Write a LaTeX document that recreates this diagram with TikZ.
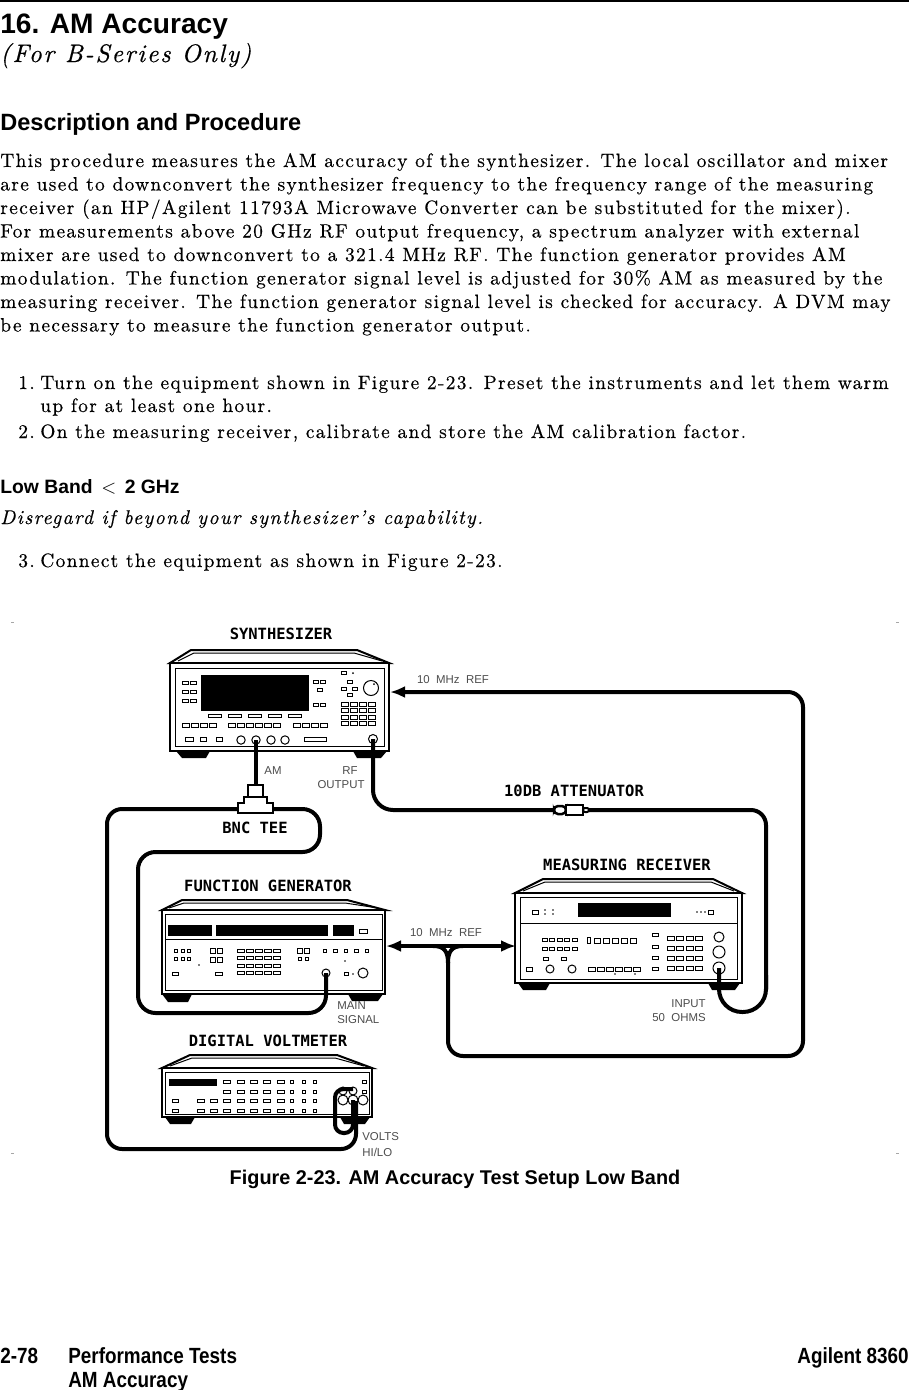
\documentclass[tikz,border=0pt]{standalone}
\usepackage{fontspec}
\usepackage{graphicx}
\usetikzlibrary{arrows.meta}
\setmainfont{lmroman10}[Extension=.otf, UprightFont=*-regular, ItalicFont=*-italic, BoldFont=*-bold, BoldItalicFont=*-bolditalic]
\newfontfamily\bodyfont{lmroman10}[Extension=.otf, UprightFont=*-regular, ItalicFont=*-italic, LetterSpace=7, FakeBold=0.4]
\newfontfamily\headfont{Liberation Sans}
\newfontfamily\stencilfont{DejaVu Sans Mono}
\newfontfamily\thinfont{Liberation Sans}
\begin{document}
\begin{tikzpicture}[x=0.2mm, y=-0.2mm,
  case/.style={line width=0.4mm, fill=white},
  panel/.style={line width=0.2mm},
  key/.style={line width=0.2mm},
  cable/.style={line width=0.8mm, rounded corners=3mm},
  devname/.style={font=\stencilfont\bfseries\fontsize{8.8}{10}\selectfont, inner sep=0pt},
  portname/.style={font=\thinfont\fontsize{6.5}{7.5}\selectfont, text=black!70, inner sep=0pt},
  body/.style={anchor=base west, inner sep=0pt, font=\bodyfont\fontsize{11}{13}\selectfont},
  heading/.style={anchor=base west, inner sep=0pt, font=\headfont\bfseries\fontsize{13.4}{15}\selectfont},
  pagefoot/.style={inner sep=0pt, font=\headfont\bfseries\fontsize{12.5}{14}\selectfont}]
\useasboundingbox (0,0) rectangle (909,1390);
\draw[line width=0.3mm] (0,1) -- (909,1);

% text of the page
\node[heading, font=\headfont\bfseries\fontsize{16}{18}\selectfont] (title) at (0,33) {16. AM Accuracy};
\node[body, font=\bodyfont\itshape\fontsize{14.4}{16}\selectfont] (series) at (0,62) {(For B-Series Only)};
\node[heading] (descr) at (0,130) {Description and Procedure};
\node[body] (l1) at (0,167) {This procedure measures the AM accuracy of the synthesizer.  The local oscillator and mixer};
\node[body] (l2) at (0,190.5) {are used to downconvert the synthesizer frequency to the frequency range of the measuring};
\node[body] (l3) at (0,214) {receiver (an HP/Agilent 11793A Microwave Converter can be substituted for the mixer).};
\node[body] (l4) at (0,237.5) {For measurements above 20 GHz RF output frequency, a spectrum analyzer with external};
\node[body] (l5) at (0,261) {mixer are used to downconvert to a 321.4 MHz RF. The function generator provides AM};
\node[body] (l6) at (0,284.5) {modulation.  The function generator signal level is adjusted for 30\% AM as measured by the};
\node[body] (l7) at (0,308) {measuring receiver.  The function generator signal level is checked for accuracy.  A DVM may};
\node[body] (l8) at (0,331.5) {be necessary to measure the function generator output.};
\node[body] (n1) at (18,389) {1.};
\node[body] (s1) at (40,389) {Turn on the equipment shown in Figure 2-23.  Preset the instruments and let them warm};
\node[body] (s1b) at (40,412) {up for at least one hour.};
\node[body] (n2) at (18,438) {2.};
\node[body] (s2) at (40,438) {On the measuring receiver, calibrate and store the AM calibration factor.};
\node[heading, font=\headfont\bfseries\fontsize{11}{13}\selectfont] (lowband) at (0,493) {Low Band\ \,$<$\ \,2 GHz};
\node[body, font=\bodyfont\itshape\fontsize{11.3}{13}\selectfont] (disregard) at (0,524) {Disregard if beyond your synthesizer’s capability.};
\node[body] (n3) at (18,567) {3.};
\node[body] (s3) at (40,567) {Connect the equipment as shown in Figure 2-23.};

% crop marks of the figure
\foreach \x/\y in {11/622, 896/622, 11/1153, 896/1153}
  \fill[black!35] (\x,\y) rectangle ++(3,1);

% synthesizer
\node[devname] (synname) at (281,634) {SYNTHESIZER};
\draw[case] (170,663) -- (191,650) -- (357,650) -- (389,663) -- cycle;
\draw[panel] (178,661) -- (194,653) -- (354,653) -- (382,661);
\draw[case] (170,663) rectangle (389,751);
\draw[panel] (175,668) rectangle (384,746);
\fill (176,751) -- (210,751) -- (206,758) -- (182,758) -- cycle;
\fill (353,751) -- (387,751) -- (381,758) -- (357,758) -- cycle;
\fill (201,675) rectangle (309,711);
\foreach \r in {0,1,2} \foreach \c in {0,1}
  \draw[key] ({182+\c*8},{681+\r*9}) rectangle ++(6,3.5);
\foreach \x/\y in {313/680, 320/680, 317/688, 313/703, 320/703}
  \draw[key] (\x,\y) rectangle ++(5,3.5);
\foreach \i in {0,...,4}
  \draw[key] ({208+\i*20},714) rectangle ++(13,3);
\foreach \x in {182,191,200,209,228,237,246,255,264,273,293,302,311,320}
  \draw[key] (\x,723) rectangle ++(7,4);
\foreach \x/\w in {185/8, 200/6, 216/6}
  \draw[key] (\x,737) rectangle ++(\w,4);
\foreach \x in {241,256,271,285}
  \draw[key] (\x,740) circle (4.2);
\draw[key] (304,737) rectangle (326,741);
\foreach \r in {0,...,3} \foreach \c in {0,...,3}
  \draw[key] ({341+\c*9.3},{702+\r*6.5}) rectangle ++(7,4.2);
\foreach \x/\y in {341/671, 347/680, 341/687, 352/687, 347/693}
  \draw[key] (\x,\y) rectangle ++(5,3.5);
\fill (353,673) circle (1);
\draw[key] (371,688) circle (7.5);
\fill (374,684) circle (1);
\draw[key] (373,739) circle (4.5);
\coordinate (am) at (256,740);
\coordinate (rfout) at (373,739);
\coordinate (synref) at (390,692);
\node[portname] (amlabel) at (273,771) {AM};
\node[portname] (rflabel) at (350,771) {RF};
\node[portname] (outlabel) at (341,785) {OUTPUT};
\node[portname] (refone) at (453,680) {10\ \ MHz\ \ REF};

% function generator
\node[devname] (fgname) at (268,886) {FUNCTION GENERATOR};
\draw[case] (162,910) -- (182,900) -- (347,900) -- (385,910) -- cycle;
\draw[panel] (169,908) -- (184,903) -- (345,903) -- (378,908);
\draw[case] (162,910) rectangle (385,994);
\draw[panel] (165,914) rectangle (382,990);
\draw[panel] (165,939) -- (382,939);
\fill (168,925) rectangle (212,936);
\fill (216,925) rectangle (328,936);
\fill (333,925) rectangle (354,936);
\draw[key] (359,929) rectangle (367,933);
\foreach \r in {0,1} \foreach \x in {174,181,187}
  \draw[key] (\x,{949+\r*8}) rectangle ++(3.5,3.5);
\foreach \r in {0,1} \foreach \x in {210,217}
  \draw[key] (\x,{948+\r*9}) rectangle ++(5,5);
\foreach \r in {0,...,3} \foreach \c in {0,...,4}
  \draw[key] ({237+\c*9},{949+\r*7.6}) rectangle ++(7.5,3);
\foreach \x in {297,304}
  \draw[key] (\x,948) rectangle ++(5,5);
\foreach \x in {298,305}
  \draw[key] (\x,957) rectangle ++(3.5,3.5);
\foreach \c in {0,...,4}
  \draw[key] ({323+\c*10.5},949) rectangle ++(3.5,3.5);
\fill (345,961) circle (0.8);
\fill (199,965) circle (0.8);
\draw[key] (172,972) rectangle ++(6,3.5);
\draw[key] (215,972) rectangle ++(7,3.5);
\draw[key] (326,973) circle (4);
\draw[key] (344,972) rectangle ++(4,3.5);
\fill (353,974) circle (0.9);
\draw[key] (363,973) circle (5);
\fill (162,994) -- (192,994) -- (188,1002) -- (168,1002) -- cycle;
\fill (348,994) -- (383,994) -- (378,1001) -- (352,1001) -- cycle;
\coordinate (fgout) at (326,973);
\coordinate (fgref) at (386,946);
\node[portname, anchor=west] (mainlabel) at (337,1006) {MAIN};
\node[portname, anchor=west] (siglabel) at (337,1020) {SIGNAL};

% measuring receiver
\node[devname] (mrname) at (627,865) {MEASURING RECEIVER};
\draw[case] (515,893) -- (543,879) -- (713,879) -- (742,893) -- cycle;
\draw[panel] (523,891) -- (545,882) -- (711,882) -- (734,891);
\draw[case] (515,893) rectangle (742,983);
\draw[panel] (520,897) rectangle (737,979);
\draw[panel] (520,923) -- (737,923);
\fill (578,903) rectangle (671,917);
\draw[key] (532,910) rectangle ++(6,4);
\foreach \x in {545,553} \foreach \y in {910,914}
  \fill (\x,\y) circle (0.8);
\foreach \x in {697,701,705}
  \fill (\x,912) circle (0.8);
\draw[key] (708,910) rectangle ++(5,4);
\foreach \r in {0,1} \foreach \c in {0,...,4}
  \draw[key] ({542+\c*7.5},{938+\r*9}) rectangle ++(5,3.5);
\foreach \x in {543,561}
  \draw[key] (\x,957) rectangle ++(5,3.5);
\draw[key] (526,967) rectangle ++(6,4);
\foreach \x in {550,572}
  \draw[key] (\x,969) circle (4);
\draw[key] (587,937) rectangle ++(3,6);
\foreach \c in {0,...,4}
  \draw[key] ({594+\c*9},938) rectangle ++(6.5,5);
\foreach \c in {0,...,5}
  \draw[key] ({588+\c*9},967) rectangle ++(7,4);
\foreach \x in {615,635}
  \fill (\x,974) circle (0.8);
\foreach \y in {933,945,956,967}
  \draw[key] (652,\y) rectangle ++(6,3.5);
\foreach \r in {0,...,3} \foreach \c in {0,...,3}
  \draw[key] ({667+\c*9.5},{936+\r*10}) rectangle ++(7,4.5);
\draw[key] (719,937) circle (5);
\draw[key] (719,952) circle (6);
\draw[key] (719,968) circle (6);
\fill (518,983) -- (550,983) -- (546,990) -- (523,990) -- cycle;
\fill (708,983) -- (740,983) -- (735,990) -- (712,990) -- cycle;
\coordinate (mrin) at (719,968);
\coordinate (mrref) at (516,946);
\node[portname, anchor=east] (inlabel) at (706,1004) {INPUT};
\node[portname, anchor=east] (ohmlabel) at (706,1018) {50\ \ OHMS};
\node[portname] (reftwo) at (446,933) {10\ \ MHz\ \ REF};

% digital voltmeter
\node[devname] (dvmname) at (268,1041) {DIGITAL VOLTMETER};
\draw[case] (162,1068) -- (190,1055) -- (337,1055) -- (372,1068) -- cycle;
\draw[panel] (170,1066) -- (192,1058) -- (335,1058) -- (364,1066);
\draw[case] (162,1068) rectangle (372,1117);
\draw[panel] (165,1072) rectangle (369,1114);
\fill (169,1079) rectangle (217,1086);
\foreach \r in {0,1} {
  \foreach \x in {223,237,250,263,277}
    \draw[key] (\x,{1080+\r*10}) rectangle ++(7,3.5);
  \foreach \x in {290,302,313}
    \draw[key] (\x,{1080+\r*10}) rectangle ++(3.5,3.5);
  \draw[key] (172,{1099+\r*10}) rectangle ++(6,3.5);
  \foreach \x in {197,210,223,237,250,263,277}
    \draw[key] (\x,{1099+\r*10}) rectangle ++(7,3.5);
  \foreach \x in {290,302,313}
    \draw[key] (\x,{1099+\r*10}) rectangle ++(3.5,3.5);
}
\foreach \y in {1080,1090}
  \draw[key] (362,\y) rectangle ++(4,3.5);
\foreach \x in {343,353}
  \draw[key] (\x,1091) circle (4);
\foreach \x in {343,353,363}
  \draw[key] (\x,1100) circle (5);
\fill (165,1117) -- (195,1117) -- (191,1124) -- (170,1124) -- cycle;
\fill (340,1117) -- (370,1117) -- (365,1124) -- (344,1124) -- cycle;
\coordinate (dvmhi) at (353,1089);
\coordinate (dvmlo) at (356,1101);
\node[portname, anchor=west] (voltlabel) at (362,1137) {VOLTS};
\node[portname, anchor=west] (hilabel) at (362,1152) {HI/LO};

% cables
\coordinate (teeL) at (238,809);
\coordinate (teeR) at (273,809);
\coordinate (attL) at (553,810);
\coordinate (attR) at (589,810);
\draw[cable] (am) -- (256,786);
\draw[cable] (teeL) -- (107,809) -- (107,1149) -- (356,1149) -- (dvmlo);
\draw[cable, rounded corners=1.7mm] (dvmhi) -- (335,1089) -- (335,1133) -- (353,1133) -- (353,1100);
\draw[cable, rounded corners=3.5mm] (teeR) -- (320,809) -- (320,852) -- (138,852) -- (138,1013) -- (326,1013) -- (fgout);
\draw[cable, rounded corners=4mm] (rfout) -- (373,810) -- (attL);
\draw[cable] (attR) -- (766,810) -- (766,990);
\draw[cable, rounded corners=4.6mm] (766,975) -- (766,1012) -- (719,1012) -- (mrin);
\draw[cable, -{Latex[length=3mm, width=2.4mm]}] (448,962) -- (448,1056) -- (803,1056) -- (803,692) -- (synref);
\draw[cable, {Latex[length=3mm, width=2.4mm]}-{Latex[length=3mm, width=2.4mm]}] (fgref) -- (mrref);
\draw[cable, rounded corners=0mm] (448,963) .. controls (448,951) and (444,946) .. (433,946);
\draw[cable, rounded corners=0mm] (448,963) .. controls (448,951) and (452,946) .. (463,946);

% bnc tee and attenuator
\draw[line width=0.35mm, fill=white] (248,785) rectangle (263,797);
\draw[line width=0.35mm, fill=white] (238,813) -- (238,803) -- (244,803) -- (244,797)
  -- (267,797) -- (267,803) -- (273,803) -- (273,813) -- cycle;
\node[devname] (teename) at (255,828) {BNC TEE};
\draw[line width=0.5mm, fill=white, rounded corners=0.8mm] (554,806) rectangle (566,814);
\draw[line width=0.4mm, fill=white] (566,805) rectangle (583,815);
\draw[line width=0.4mm, fill=white, rounded corners=0.4mm] (583,808) rectangle (589,812);
\node[devname] (attname) at (574,791) {10DB ATTENUATOR};

% caption and page foot
\node[anchor=base, inner sep=0pt, font=\headfont\bfseries\fontsize{11.3}{13}\selectfont] (caption) at (455,1184) {Figure 2-23. AM Accuracy Test Setup Low Band};
\node[pagefoot, anchor=base west] (pagenum) at (0,1363) {\scalebox{0.86}[1]{2-78}};
\node[pagefoot, anchor=base west] (chapter) at (68,1363) {\scalebox{0.86}[1]{Performance Tests}};
\node[pagefoot, anchor=base west] (section) at (68,1387) {\scalebox{0.86}[1]{AM Accuracy}};
\node[pagefoot, anchor=base east] (model) at (909,1363) {\scalebox{0.86}[1]{Agilent 8360}};
\end{tikzpicture}
\end{document}
